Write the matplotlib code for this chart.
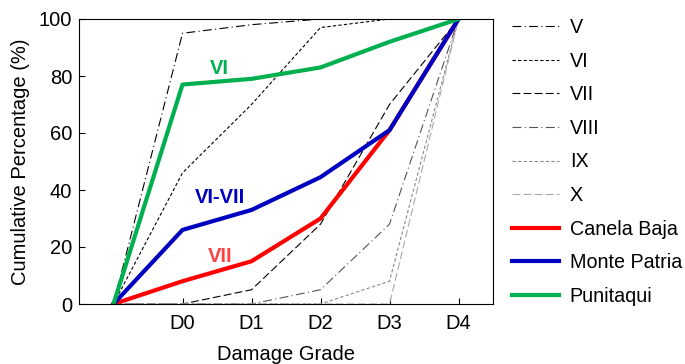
import matplotlib
matplotlib.use("Agg")
import matplotlib.pyplot as plt

plt.rcParams['font.family'] = ['Liberation Sans', 'DejaVu Sans']

grades = ["", "D0", "D1", "D2", "D3", "D4"]
V = [0, 95, 98, 100, 100, 100]
VI = [0, 46, 70, 97, 100, 100]
VII = [0, 0, 5, 28, 70, 100]
VIII = [0, 0, 0, 5, 28, 100]
IX = [0, 0, 0, 0, 8, 100]
X = [0, 0, 0, 0, 0, 100]
canela = [0, 8, 15, 30, 61, 100]
monte = [0, 26, 33, 44.5, 61, 100]
puni = [0, 77, 79, 83, 92, 100]

FS = 14.5
fig = plt.figure(figsize=(6.85, 3.64), dpi=100)
ax = fig.add_axes([79/685, 1-304/364, 414/685, 285/364])
xs = list(range(len(grades)))

ax.plot(xs, V, color='black', lw=0.8, ls=(0, (8, 3, 1, 3)), label='V')
ax.plot(xs, VI, color='black', lw=0.8, ls=(0, (3, 2)), label='VI')
ax.plot(xs, VII, color='black', lw=0.8, ls=(0, (7, 3)), label='VII')
ax.plot(xs, VIII, color='#555555', lw=0.8, ls=(0, (8, 3, 1, 3)), label='VIII')
ax.plot(xs, IX, color='#888888', lw=0.8, ls=(0, (3, 2)), label='IX')
ax.plot(xs, X, color='#aaaaaa', lw=0.8, ls=(0, (7, 3)), label='X')
ax.plot(xs, canela, color='#ff0000', lw=3.0, label='Canela Baja')
ax.plot(xs, monte, color='#0000c0', lw=3.0, label='Monte Patria')
ax.plot(xs, puni, color='#00b050', lw=3.0, label='Punitaqui')

ax.text(1.54, 82.8, 'VI', color='#00b050', fontsize=FS, fontweight='bold', ha='center', va='center')
ax.text(1.55, 37.5, 'VI-VII', color='#0000c0', fontsize=FS, fontweight='bold', ha='center', va='center')
ax.text(1.54, 16.5, 'VII', color='#ff4040', fontsize=FS, fontweight='bold', ha='center', va='center')

ax.set_xlim(-0.5, 5.5)
ax.set_ylim(0, 100)
ax.set_xticks(xs[1:])
ax.set_xticklabels(grades[1:])
ax.set_yticks([0, 20, 40, 60, 80, 100])
ax.tick_params(direction='in', labelsize=FS, length=4.5, top=False, right=False)
ax.tick_params(axis='x', pad=7)
ax.tick_params(axis='y', pad=5)
ax.set_xlabel('Damage Grade', fontsize=FS, labelpad=9)
ax.set_ylabel('Cumulative Percentage (%)', fontsize=FS, labelpad=6)

fig.legend(loc='upper left', bbox_to_anchor=(0.721, 0.999), frameon=False,
           fontsize=14.2, handlelength=2.4, handletextpad=0.55, labelspacing=0.74)
fig.savefig('out.png', dpi=100)
